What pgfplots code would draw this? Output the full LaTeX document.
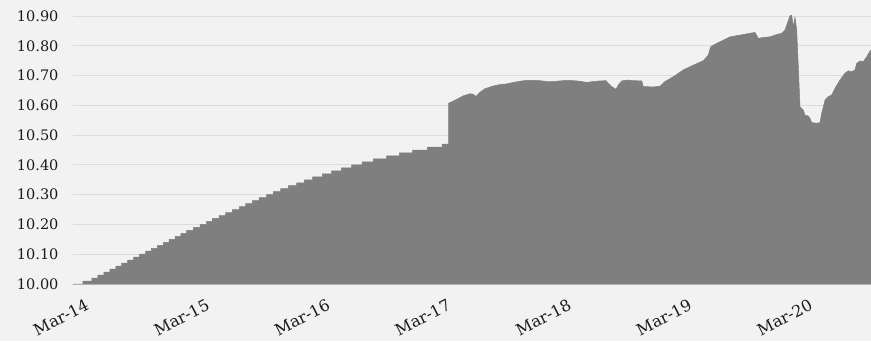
\documentclass[border=0pt]{standalone}
\usepackage{pgfplots}
\pgfplotsset{compat=1.18}
\usepackage{fontspec}
\setmainfont{DejaVu Serif}
\usetikzlibrary{backgrounds}
\definecolor{bgc}{HTML}{F2F2F2}
\definecolor{fillc}{HTML}{7F7F7F}
\definecolor{gridc}{HTML}{DCDCDC}
\definecolor{txtc}{HTML}{1A1A1A}
\begin{document}
\begin{tikzpicture}
\begin{axis}[
  scale only axis,
  width=798pt, height=279pt,
  xmin=0, xmax=6.6169,
  ymin=10, ymax=10.937,
  axis line style={draw=none},
  major tick length=0pt,
  ymajorgrids,
  major grid style={line width=0.9pt, draw=gridc},
  ytick={10,10.1,...,10.95},
  scaled y ticks=false,
  yticklabel style={/pgf/number format/.cd, fixed, fixed zerofill, precision=2, assume math mode=true, /tikz/.cd,
     font=\fontsize{14.5}{17}\selectfont, text=txtc, anchor=east, xshift=-11pt},
  xtick={0,1,2,3,4,5,6},
  xticklabels={Mar-14,Mar-15,Mar-16,Mar-17,Mar-18,Mar-19,Mar-20},
  xticklabel style={font=\fontsize{16}{18}\selectfont, text=txtc, rotate=27, anchor=north east, inner sep=0pt, xshift=4pt, yshift=-18pt},
]
\addplot[fill=fillc, draw=fillc, line width=0.5pt] coordinates {
(0,10.00)
(0.0829,10.00)(0.0829,10.01)
(0.1575,10.01)(0.1575,10.02)
(0.2065,10.02)(0.2065,10.03)
(0.2562,10.03)(0.2562,10.04)
(0.3060,10.04)(0.3060,10.05)
(0.3549,10.05)(0.3549,10.06)
(0.4038,10.06)(0.4038,10.07)
(0.4536,10.07)(0.4536,10.08)
(0.5025,10.08)(0.5025,10.09)
(0.5514,10.09)(0.5514,10.10)
(0.6012,10.10)(0.6012,10.11)
(0.6501,10.11)(0.6501,10.12)
(0.6990,10.12)(0.6990,10.13)
(0.7488,10.13)(0.7488,10.14)
(0.7977,10.14)(0.7977,10.15)
(0.8466,10.15)(0.8466,10.16)
(0.8955,10.16)(0.8955,10.17)
(0.9428,10.17)(0.9428,10.18)
(0.9975,10.18)(0.9975,10.19)
(1.0531,10.19)(1.0531,10.20)
(1.1087,10.20)(1.1087,10.21)
(1.1551,10.21)(1.1551,10.22)
(1.2106,10.22)(1.2106,10.23)
(1.2662,10.23)(1.2662,10.24)
(1.3209,10.24)(1.3209,10.25)
(1.3789,10.25)(1.3789,10.26)
(1.4320,10.26)(1.4320,10.27)
(1.4867,10.27)(1.4867,10.28)
(1.5423,10.28)(1.5423,10.29)
(1.6061,10.29)(1.6061,10.30)
(1.6609,10.30)(1.6609,10.31)
(1.7222,10.31)(1.7222,10.32)
(1.7852,10.32)(1.7852,10.33)
(1.8549,10.33)(1.8549,10.34)
(1.9179,10.34)(1.9179,10.35)
(1.9876,10.35)(1.9876,10.36)
(2.0672,10.36)(2.0672,10.37)
(2.1451,10.37)(2.1451,10.38)
(2.2247,10.38)(2.2247,10.39)
(2.3109,10.39)(2.3109,10.40)
(2.3964,10.40)(2.3964,10.41)
(2.4900,10.41)(2.4900,10.42)
(2.6012,10.42)(2.6012,10.43)
(2.7056,10.43)(2.7056,10.44)
(2.8167,10.44)(2.8167,10.45)
(2.9378,10.45)(2.9378,10.46)
(3.0597,10.46)(3.0597,10.47)
(3.1153,10.47)(3.1153,10.607)
(3.1816,10.620)(3.2363,10.632)(3.2919,10.639)(3.3192,10.637)(3.3416,10.630)
(3.3748,10.644)(3.4163,10.656)(3.4851,10.665)(3.5406,10.670)(3.5962,10.672)
(3.6509,10.677)(3.7065,10.681)(3.7620,10.684)(3.8167,10.684)(3.8723,10.683)
(3.9279,10.680)(3.9826,10.680)(4.0381,10.682)(4.0937,10.684)(4.1484,10.683)
(4.2040,10.681)(4.2595,10.677)(4.3143,10.680)(4.3698,10.682)(4.4196,10.683)
(4.4386,10.674)(4.4668,10.663)(4.5025,10.654)(4.5216,10.668)(4.5498,10.682)
(4.5912,10.685)(4.6460,10.683)(4.7156,10.682)(4.7289,10.663)(4.8118,10.662)
(4.8673,10.664)(4.9088,10.680)(4.9776,10.696)(5.0605,10.719)(5.1434,10.735)
(5.2264,10.750)(5.2678,10.769)(5.2877,10.797)(5.3375,10.808)(5.3922,10.819)
(5.4478,10.830)(5.5307,10.836)(5.5862,10.840)(5.6551,10.845)(5.6824,10.825)
(5.7239,10.828)(5.7794,10.830)(5.8350,10.838)(5.8765,10.842)(5.9038,10.853)
(5.9229,10.875)(5.9453,10.901)(5.9594,10.903)(5.9726,10.864)(5.9867,10.896)
(6.0008,10.853)(6.0141,10.730)(6.0282,10.595)(6.0556,10.584)(6.0697,10.567)
(6.0970,10.564)(6.1111,10.556)(6.1252,10.542)(6.1667,10.540)(6.1941,10.542)
(6.2081,10.573)(6.2355,10.618)(6.2629,10.629)(6.2910,10.635)(6.3184,10.657)
(6.3599,10.685)(6.4013,10.708)(6.4287,10.716)(6.4569,10.713)(6.4842,10.719)
(6.4983,10.741)(6.5257,10.749)(6.5531,10.747)(6.5813,10.763)(6.6086,10.782)
(6.6169,10.786)
} \closedcycle;
\end{axis}
\begin{pgfonlayer}{background}
\fill[bgc] ([xshift=-73pt,yshift=-57pt]current axis.south west) rectangle ([yshift=5pt]current axis.north east);
\end{pgfonlayer}
\pgfresetboundingbox
\useasboundingbox ([xshift=-73pt,yshift=-57pt]current axis.south west) rectangle ([yshift=5pt]current axis.north east);
\end{tikzpicture}
\end{document}
